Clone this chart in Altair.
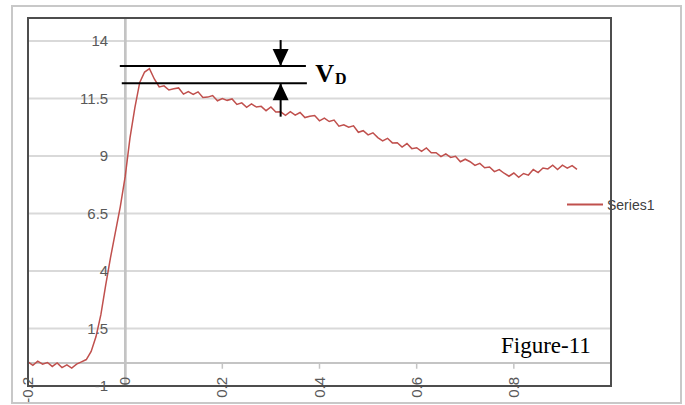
import altair as alt
import pandas as pd

# ---- data ----
t = [-0.20, -0.19, -0.18, -0.17, -0.16, -0.15, -0.14, -0.13, -0.12, -0.11,
     -0.10, -0.09, -0.08, -0.07, -0.06, -0.05, -0.04, -0.03, -0.02, -0.01,
     0.00, 0.01, 0.02, 0.03, 0.04, 0.05, 0.06, 0.07, 0.08, 0.09,
     0.10, 0.11, 0.12, 0.13, 0.14, 0.15, 0.16, 0.17, 0.18, 0.19,
     0.20, 0.21, 0.22, 0.23, 0.24, 0.25, 0.26, 0.27, 0.28, 0.29,
     0.30, 0.31, 0.32, 0.33, 0.34, 0.35, 0.36, 0.37, 0.38, 0.39,
     0.40, 0.41, 0.42, 0.43, 0.44, 0.45, 0.46, 0.47, 0.48, 0.49,
     0.50, 0.51, 0.52, 0.53, 0.54, 0.55, 0.56, 0.57, 0.58, 0.59,
     0.60, 0.61, 0.62, 0.63, 0.64, 0.65, 0.66, 0.67, 0.68, 0.69,
     0.70, 0.71, 0.72, 0.73, 0.74, 0.75, 0.76, 0.77, 0.78, 0.79,
     0.80, 0.81, 0.82, 0.83, 0.84, 0.85, 0.86, 0.87, 0.88, 0.89,
     0.90, 0.91, 0.92, 0.93]
series1 = [0.05, -0.10, 0.08, -0.05, 0.02, -0.15, 0.00, -0.20, -0.08, -0.22,
           -0.05, 0.05, 0.15, 0.50, 1.15, 2.10, 3.40, 4.60, 5.70, 6.80,
           8.10, 9.80, 11.10, 12.20, 12.65, 12.80, 12.35, 12.00, 12.05, 11.87,
           11.92, 11.96, 11.69, 11.80, 11.68, 11.79, 11.54, 11.56, 11.63, 11.40,
           11.50, 11.42, 11.48, 11.24, 11.31, 11.12, 11.27, 11.13, 11.16, 10.97,
           11.13, 10.91, 10.92, 10.77, 10.93, 10.78, 10.89, 10.67, 10.73, 10.76,
           10.53, 10.65, 10.50, 10.56, 10.30, 10.36, 10.25, 10.31, 10.03, 10.10,
           9.92, 10.01, 9.80, 9.66, 9.77, 9.57, 9.58, 9.39, 9.54, 9.32,
           9.36, 9.20, 9.35, 9.14, 9.14, 8.97, 9.09, 8.94, 8.99, 8.75,
           8.86, 8.75, 8.59, 8.68, 8.49, 8.52, 8.32, 8.41, 8.25, 8.12,
           8.26, 8.07, 8.24, 8.17, 8.41, 8.28, 8.48, 8.44, 8.60, 8.41,
           8.60, 8.47, 8.58, 8.42]

y_ticks = [-1, 1.5, 4, 6.5, 9, 11.5, 14]
y_tick_labels = ["-1", "1.5", "4", "6.5", "9", "11.5", "14"]
grid_vals = [1.5, 4, 6.5, 9, 11.5, 14]
x_ticks = [-0.2, 0.0, 0.2, 0.4, 0.6, 0.8]
x_tick_labels = ["-0.2", "0", "0.2", "0.4", "0.6", "0.8"]
x_minor_ticks = [0.2, 0.4, 0.6, 0.8]

# V_D annotation (data coordinates)
vd_levels = [12.91, 12.16]
vd_x_start = [-0.011, -0.007]
vd_x_end = [0.372, 0.374]
arrow_x = 0.32
arrow_down_top = 14.04
arrow_up_bottom = 10.71

W, H = 583, 368
xs = alt.Scale(domain=[-0.2, 1.0], nice=False, zero=False)
ys = alt.Scale(domain=[-1, 15], nice=False, zero=False)

df = pd.DataFrame({"t": t, "v": series1})
df_grid = pd.DataFrame({"g": grid_vals})
df_yt = pd.DataFrame({"v": y_ticks, "lab": y_tick_labels})
df_xt = pd.DataFrame({"t": x_ticks, "lab": x_tick_labels})
df_xm = pd.DataFrame({"t": x_minor_ticks, "y0": [0] * 4, "y1": [-0.25] * 4})
df_vd = pd.DataFrame({"y": vd_levels, "x1": vd_x_start, "x2": vd_x_end})
df_arrows = pd.DataFrame({
    "x": [arrow_x, arrow_x],
    "y1": [arrow_down_top, vd_levels[1]],
    "y2": [vd_levels[0], arrow_up_bottom],
})
df_heads_down = pd.DataFrame({"x": [arrow_x], "y": [vd_levels[0]]})
df_heads_up = pd.DataFrame({"x": [arrow_x], "y": [vd_levels[1]]})
df_v = pd.DataFrame({"x": [0.391], "y": [12.23], "s": ["V"]})
df_d = pd.DataFrame({"x": [0.432], "y": [12.13], "s": ["D"]})

outer = alt.Chart(df_grid).mark_rect(fillOpacity=0, stroke="#c8c8c8", strokeWidth=1.5).encode(
    x=alt.value(-16), x2=alt.value(653), y=alt.value(-12), y2=alt.value(385)
)

grid = alt.Chart(df_grid).mark_rule(color="#d9d9d9", strokeWidth=2).encode(
    y=alt.Y("g:Q", scale=ys, axis=None), x=alt.value(0), x2=alt.value(W)
)

hzero = alt.Chart(df_grid).mark_rule(color="#c4c4c4", strokeWidth=2).encode(
    y=alt.YDatum(0, scale=ys, axis=None), x=alt.value(0), x2=alt.value(W)
)
vzero = alt.Chart(df_grid).mark_rule(color="#c4c4c4", strokeWidth=2).encode(
    x=alt.XDatum(0, scale=xs, axis=None), y=alt.value(0), y2=alt.value(H)
)
xminor = alt.Chart(df_xm).mark_rule(color="#c4c4c4", strokeWidth=1.5).encode(
    x=alt.X("t:Q", scale=xs, axis=None),
    y=alt.Y("y0:Q", scale=ys, axis=None), y2="y1:Q"
)

ylabels = alt.Chart(df_yt).mark_text(
    align="right", baseline="middle", dx=-17, fontSize=15,
    font="Liberation Sans", color="#595959"
).encode(
    x=alt.XDatum(0, scale=xs, axis=None),
    y=alt.Y("v:Q", scale=ys, axis=None), text="lab:N"
)

xlabels = alt.Chart(df_xt).mark_text(
    align="right", baseline="middle", angle=270, fontSize=15,
    font="Liberation Sans", color="#595959"
).encode(
    x=alt.X("t:Q", scale=xs, axis=None), y=alt.value(359), text="lab:N"
)

line = alt.Chart(df).mark_line(color="#c0504d", strokeWidth=1.5).encode(
    x=alt.X("t:Q", scale=xs, axis=None),
    y=alt.Y("v:Q", scale=ys, axis=None)
)

vd_lines = alt.Chart(df_vd).mark_rule(color="black", strokeWidth=2).encode(
    x=alt.X("x1:Q", scale=xs, axis=None), x2="x2:Q",
    y=alt.Y("y:Q", scale=ys, axis=None)
)
shafts = alt.Chart(df_arrows).mark_rule(color="black", strokeWidth=2).encode(
    x=alt.X("x:Q", scale=xs, axis=None),
    y=alt.Y("y1:Q", scale=ys, axis=None), y2="y2:Q"
)
head_down = alt.Chart(df_heads_down).mark_point(
    shape="M-0.47,-1L0.47,-1L0,0Z", size=1156, filled=True, color="black", opacity=1
).encode(x=alt.X("x:Q", scale=xs, axis=None), y=alt.Y("y:Q", scale=ys, axis=None))
head_up = alt.Chart(df_heads_up).mark_point(
    shape="M-0.47,1L0.47,1L0,0Z", size=1156, filled=True, color="black", opacity=1
).encode(x=alt.X("x:Q", scale=xs, axis=None), y=alt.Y("y:Q", scale=ys, axis=None))

v_text = alt.Chart(df_v).mark_text(
    align="left", baseline="alphabetic", font="Liberation Serif",
    fontWeight="bold", fontSize=26, color="black"
).encode(x=alt.X("x:Q", scale=xs, axis=None), y=alt.Y("y:Q", scale=ys, axis=None), text="s:N")
d_text = alt.Chart(df_d).mark_text(
    align="left", baseline="alphabetic", font="Liberation Serif",
    fontWeight="bold", fontSize=16, color="black"
).encode(x=alt.X("x:Q", scale=xs, axis=None), y=alt.Y("y:Q", scale=ys, axis=None), text="s:N")

fig_label = alt.Chart(pd.DataFrame({"s": ["Figure-11"]})).mark_text(
    align="left", baseline="alphabetic", font="Liberation Serif",
    fontSize=23, color="black"
).encode(x=alt.value(473), y=alt.value(334.7), text="s:N")

legend_line = alt.Chart(pd.DataFrame({"s": ["Series1"]})).mark_rule(
    color="#c0504d", strokeWidth=2
).encode(x=alt.value(539), x2=alt.value(575), y=alt.value(186.5))
legend_text = alt.Chart(pd.DataFrame({"s": ["Series1"]})).mark_text(
    align="left", baseline="middle", font="Liberation Sans",
    fontSize=14, color="#404040"
).encode(x=alt.value(579), y=alt.value(188), text="s:N")

border = alt.Chart(df_grid).mark_rect(fillOpacity=0, stroke="#4d4d4d", strokeWidth=2).encode(
    x=alt.value(0), x2=alt.value(W), y=alt.value(0), y2=alt.value(H)
)

chart = alt.layer(
    outer, grid, hzero, vzero, xminor, line,
    vd_lines, shafts, head_down, head_up, v_text, d_text,
    fig_label, legend_line, legend_text, border, ylabels, xlabels
).properties(
    width=W, height=H,
    autosize=alt.AutoSizeParams(type="none"),
    padding={"left": 28, "top": 18, "right": 74, "bottom": 19},
    background="white"
).configure_view(strokeWidth=0)

chart.save("out.html", embed_options={"renderer": "svg", "actions": False})
